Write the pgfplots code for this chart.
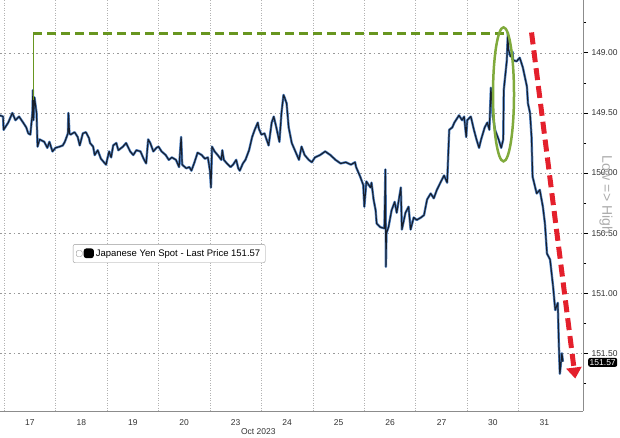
\documentclass[border=0pt]{standalone}
\usepackage{pgfplots}
\pgfplotsset{compat=1.18}
\usepackage{pgfplotstable}
\usepackage{fontspec}
\setmainfont{Liberation Sans}
\usetikzlibrary{arrows.meta}

\definecolor{lineDark}{RGB}{22,30,44}
\definecolor{lineBlue}{RGB}{80,130,195}
\definecolor{annGreen}{RGB}{104,150,32}
\definecolor{ellGreen}{RGB}{128,170,60}
\definecolor{annRed}{RGB}{228,32,44}

\pgfplotstableread{
d p
-0.08 149.52
-0.02 149.53
-0.01 149.64
0.08 149.58
0.16 149.50
0.22 149.56
0.29 149.53
0.37 149.58
0.43 149.62
0.47 149.67
0.51 149.68
0.55 149.50
0.56 149.31
0.57 149.56
0.59 149.37
0.63 149.50
0.65 149.78
0.69 149.72
0.78 149.74
0.84 149.79
0.88 149.74
0.94 149.82
1.00 149.79
1.08 149.78
1.14 149.77
1.18 149.74
1.24 149.67
1.25 149.50
1.27 149.67
1.29 149.68
1.37 149.66
1.43 149.70
1.47 149.77
1.53 149.67
1.59 149.66
1.65 149.71
1.67 149.75
1.73 149.78
1.76 149.85
1.82 149.81
1.88 149.88
1.96 149.92
1.98 149.93
2.04 149.82
2.08 149.87
2.12 149.77
2.18 149.75
2.22 149.81
2.31 149.78
2.37 149.75
2.45 149.82
2.51 149.85
2.57 149.81
2.65 149.82
2.71 149.88
2.76 149.92
2.80 149.72
2.84 149.75
2.90 149.82
2.96 149.79
3.00 149.78
3.06 149.82
3.14 149.85
3.20 149.89
3.26 149.87
3.34 149.89
3.40 149.95
3.44 149.70
3.46 149.93
3.54 149.96
3.60 149.95
3.64 149.98
3.70 149.91
3.76 149.83
3.84 149.85
3.90 149.88
3.96 149.87
4.00 149.98
4.02 150.12
4.04 149.78
4.09 149.82
4.15 149.85
4.22 149.89
4.24 149.81
4.27 149.89
4.33 149.92
4.40 149.95
4.45 149.93
4.51 149.89
4.55 149.96
4.58 149.98
4.64 149.92
4.69 149.89
4.76 149.81
4.82 149.70
4.87 149.64
4.93 149.58
4.95 149.63
5.00 149.68
5.06 149.67
5.14 149.77
5.20 149.58
5.24 149.53
5.29 149.62
5.35 149.74
5.39 149.50
5.43 149.35
5.45 149.37
5.49 149.42
5.53 149.62
5.59 149.75
5.65 149.81
5.73 149.89
5.78 149.78
5.84 149.85
5.92 149.89
5.98 149.91
6.04 149.87
6.14 149.85
6.24 149.82
6.34 149.85
6.44 149.89
6.54 149.92
6.64 149.91
6.74 149.93
6.82 149.91
6.84 149.95
6.92 150.03
6.98 150.10
7.00 150.28
7.04 150.07
7.12 150.12
7.14 150.08
7.18 150.22
7.22 150.31
7.24 150.42
7.31 150.45
7.39 150.46
7.41 149.97
7.42 150.78
7.43 150.50
7.47 150.45
7.53 150.31
7.59 150.24
7.63 150.33
7.71 150.12
7.73 150.47
7.80 150.33
7.86 150.28
7.90 150.47
7.96 150.37
8.02 150.39
8.10 150.37
8.16 150.35
8.22 150.22
8.29 150.17
8.35 150.21
8.41 150.14
8.49 150.07
8.55 150.02
8.61 150.08
8.65 149.64
8.71 149.62
8.75 149.58
8.78 149.56
8.84 149.52
8.90 149.56
8.94 149.53
8.98 149.70
9.00 149.56
9.07 149.53
9.13 149.64
9.18 149.72
9.23 149.79
9.27 149.72
9.34 149.62
9.39 149.58
9.43 149.64
9.46 149.29
9.50 149.53
9.54 149.64
9.61 149.72
9.66 149.79
9.70 149.72
9.71 149.31
9.77 149.06
9.79 148.83
9.80 148.97
9.84 149.03
9.88 148.99
9.89 149.06
9.96 149.07
10.02 149.04
10.08 149.12
10.16 149.28
10.18 149.42
10.22 149.50
10.25 149.70
10.27 150.03
10.35 150.17
10.41 150.14
10.47 150.28
10.51 150.42
10.55 150.67
10.61 150.72
10.67 150.95
10.71 151.14
10.76 151.08
10.78 151.42
10.80 151.67
10.84 151.50
10.86 151.57
}\usdjpy

\begin{document}
\begin{tikzpicture}
\begin{axis}[
  at={(0,0)}, anchor=north west,
  scale only axis, width=583pt, height=411pt,
  xmin=-0.08, xmax=11.25, ymin=148.56, ymax=151.98, y dir=reverse,
  clip=false,
  axis x line*=bottom, axis y line*=right,
  axis line style={-, draw=black!45, line width=0.8pt},
  xtick={0.5,1.5,2.5,3.5,4.5,5.5,6.5,7.5,8.5,9.5,10.5},
  xticklabels={17,18,19,20,23,24,25,26,27,30,31},
  minor xtick={0,1,2,3,4,5,6,7,8,9,10},
  xtick style={draw=none},
  minor x tick style={draw=none},
  xminorgrids,
  minor x grid style={black!30, dash pattern=on 1pt off 1.5pt, line width=0.6pt},
  ytick={149,149.5,150,150.5,151,151.5},
  minor ytick={148.75,149.25,149.75,150.25,150.75,151.25,151.75},
  ymajorgrids,
  major y grid style={black!40, dash pattern=on 1.5pt off 3pt, line width=0.7pt},
  tick align=outside,
  major tick length=5pt, minor tick length=3pt,
  y tick style={black, line width=0.8pt},
  yticklabel style={/pgf/number format/fixed, /pgf/number format/fixed zerofill, /pgf/number format/precision=2},
  /pgf/number format/assume math mode=true,
  tick label style={font=\fontsize{8.5}{10}\selectfont, text=black!80},
  legend style={at={(0.125,0.406)}, anchor=north west, draw=black!40, rounded corners=2pt,
    font=\fontsize{9.5}{11}\selectfont, inner xsep=3pt, inner ysep=3pt, fill=white},
  legend cell align=left,
  legend image code/.code={
    \draw[black!45, line width=0.4pt] (0pt,-3pt) rectangle (6pt,3pt);
    \fill[black] (8pt,-4pt) rectangle (17pt,4.5pt);
  },
]
\addplot[lineBlue, line width=2.4pt, line join=round, forget plot] table[x=d, y=p] {\usdjpy};
\addplot[lineDark, line width=1.1pt, line join=round] table[x=d, y=p] {\usdjpy};
\addlegendentry{Japanese Yen Spot - Last Price 151.57}

% annotations
\draw[annGreen, line width=3pt, dash pattern=on 9pt off 5pt] (axis cs:0.57,148.84) -- (axis cs:9.75,148.84);
\draw[annGreen, line width=1.3pt] (axis cs:0.57,148.84) -- (axis cs:0.57,149.39);
\draw[ellGreen, line width=2.5pt] (axis cs:9.705,149.345) ellipse [x radius=10.5pt, y radius=67pt];
\draw[annRed, line width=5pt, dash pattern=on 12pt off 6pt, -{Triangle[length=11pt,width=15pt]}]
  (axis cs:10.25,148.83) -- (axis cs:11.10,151.71);

\node[fill=black, text=white, rounded corners=2pt, inner sep=1.5pt, anchor=west,
  font=\fontsize{8.5}{9}\selectfont] at (axis cs:11.25,151.575) [xshift=5pt] {151.57};
\node[xshift=23pt, rotate=-90, text=black!33, font=\fontsize{14}{16}\selectfont]
  at (axis cs:11.25,150.18) {Low => High};
\node[anchor=north, font=\fontsize{8.5}{10}\selectfont, text=black!80]
  at (axis cs:4.94,151.98) [yshift=-14pt] {Oct 2023};
\end{axis}
\pgfresetboundingbox
\useasboundingbox (0,0) rectangle (620pt,-437pt);
\end{tikzpicture}
\end{document}
